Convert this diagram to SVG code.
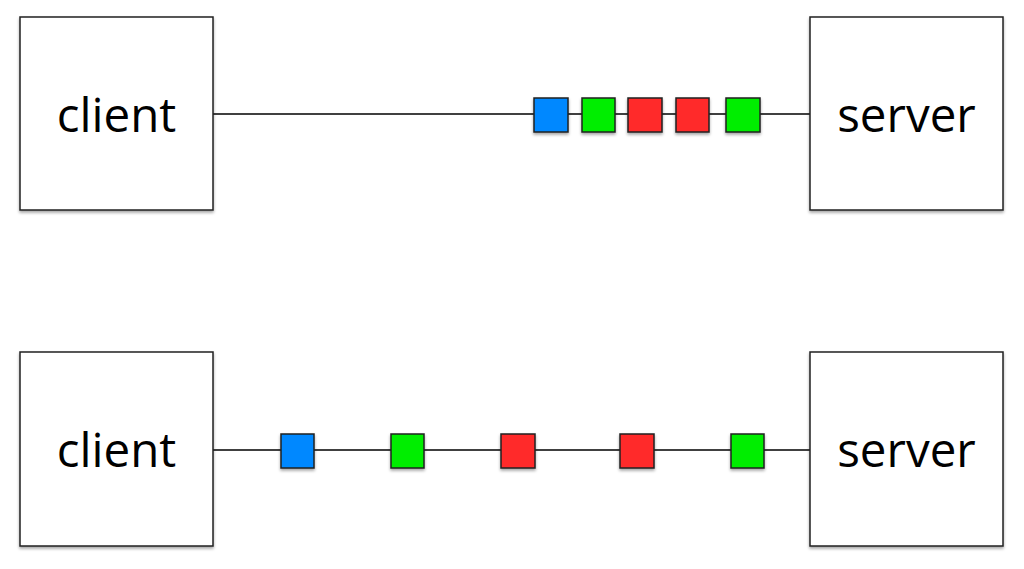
<svg xmlns="http://www.w3.org/2000/svg" width="1024" height="569" viewBox="0 0 1024 569">
<defs>
<filter id="sh" x="-20%" y="-20%" width="140%" height="140%">
<feDropShadow dx="0" dy="2" stdDeviation="1.5" flood-color="#000" flood-opacity="0.35"/>
</filter>
</defs>
<style>
.box{fill:#fff;stroke:#222;stroke-width:1.5;filter:url(#sh)}
.lbl{font-family:"Open Sans",sans-serif;font-size:47.5px;fill:#000;text-anchor:middle}
.ln{stroke:#000;stroke-width:1.3;fill:none}
.pk{stroke:#222;stroke-width:1.5;filter:url(#sh)}
.b{fill:#0088ff}.g{fill:#00ee00}.r{fill:#ff2a2a}
</style>
<g id="connectors">
<line class="ln" x1="213" y1="114" x2="810" y2="114"/>
<line class="ln" x1="213" y1="450" x2="810" y2="450"/>
</g>
<g id="client-top"><rect class="box" x="20" y="17" width="193" height="193"/><text class="lbl" x="116.5" y="132">client</text></g>
<g id="server-top"><rect class="box" x="810" y="17" width="193" height="193"/><text class="lbl" x="906.5" y="132">server</text></g>
<g id="client-bottom"><rect class="box" x="20" y="352" width="193" height="194"/><text class="lbl" x="116.5" y="467">client</text></g>
<g id="server-bottom"><rect class="box" x="810" y="352" width="193" height="194"/><text class="lbl" x="906.5" y="467">server</text></g>
<g id="packets-top">
<rect class="pk b" x="534" y="98" width="34" height="34"/>
<rect class="pk g" x="582" y="98" width="33" height="34"/>
<rect class="pk r" x="628" y="98" width="34" height="34"/>
<rect class="pk r" x="676" y="98" width="33" height="34"/>
<rect class="pk g" x="726" y="98" width="34" height="34"/>
</g>
<g id="packets-bottom">
<rect class="pk b" x="281" y="434" width="33" height="34"/>
<rect class="pk g" x="391" y="434" width="33" height="34"/>
<rect class="pk r" x="501" y="434" width="34" height="34"/>
<rect class="pk r" x="620" y="434" width="34" height="34"/>
<rect class="pk g" x="731" y="434" width="33" height="34"/>
</g>
</svg>
